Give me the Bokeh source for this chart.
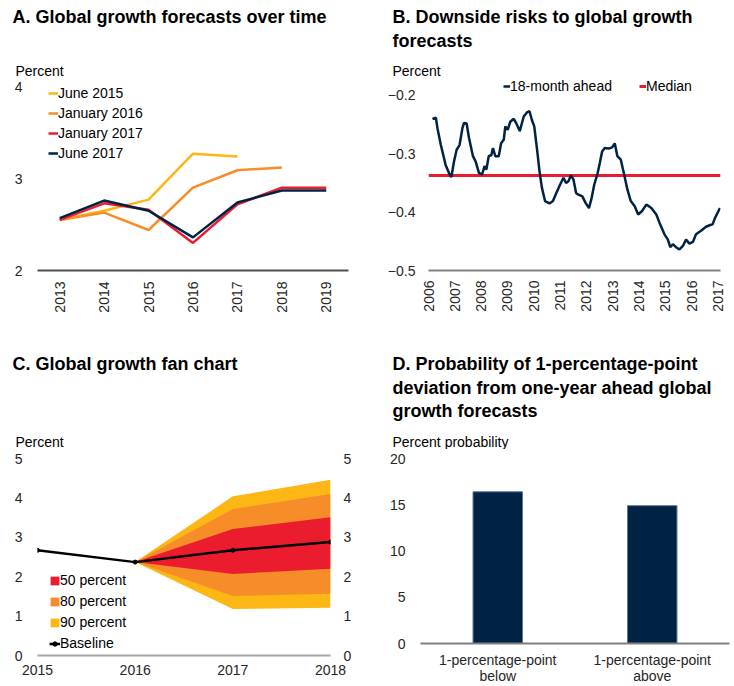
import math
from bokeh.plotting import figure
from bokeh.models import (Label, Legend, LegendItem, FixedTicker, LinearAxis,
                          FactorRange, Range1d)
from bokeh.layouts import row, column
from bokeh.embed import file_html
from bokeh.resources import INLINE

FONT = "Liberation Sans"
YELLOW = "#FDB714"
ORANGE = "#F78D28"
RED = "#EB1C2D"
NAVY = "#002345"

# ---------------- Panel A data ----------------
a_years = ["2013", "2014", "2015", "2016", "2017", "2018", "2019"]
a_june2015 = [2.55, 2.65, 2.77, 3.27, 3.24]
a_jan2016 = [2.55, 2.63, 2.44, 2.90, 3.09, 3.12]
a_jan2017 = [2.55, 2.73, 2.66, 2.30, 2.72, 2.90, 2.90]
a_june2017 = [2.57, 2.76, 2.65, 2.36, 2.74, 2.87, 2.87]
a_yticks = [2, 3, 4]

# ---------------- Panel B data ----------------
b_dates = [2006.0, 2006.15, 2006.28, 2006.34, 2006.47, 2006.65, 2006.78, 2006.87, 2006.97,
           2007.07, 2007.18, 2007.29, 2007.35, 2007.45, 2007.54, 2007.69, 2007.79, 2007.92,
           2008.04, 2008.13, 2008.20, 2008.29, 2008.39, 2008.45, 2008.54, 2008.67, 2008.76,
           2008.86, 2008.92, 2009.01, 2009.11, 2009.24, 2009.34, 2009.47, 2009.62, 2009.74,
           2009.84, 2009.93, 2010.02, 2010.12, 2010.22, 2010.31, 2010.43, 2010.60, 2010.73,
           2010.88, 2011.00, 2011.13, 2011.23, 2011.32, 2011.41, 2011.51, 2011.61, 2011.70,
           2011.85, 2011.97, 2012.10, 2012.20, 2012.30, 2012.43, 2012.51, 2012.60, 2012.70,
           2012.85, 2012.98, 2013.08, 2013.18, 2013.31, 2013.44, 2013.56, 2013.69, 2013.84,
           2013.97, 2014.12, 2014.28, 2014.47, 2014.66, 2014.78, 2014.97, 2015.10, 2015.19,
           2015.29, 2015.41, 2015.54, 2015.67, 2015.79, 2015.92, 2016.05, 2016.17, 2016.36,
           2016.55, 2016.71, 2016.80, 2016.89, 2016.99, 2017.08, 2017.10]
b_values = [None, -0.240, -0.238, -0.256, -0.285, -0.319, -0.333, -0.340, -0.313,
            -0.293, -0.285, -0.256, -0.247, -0.248, -0.273, -0.304, -0.313, -0.333,
            -0.335, -0.321, -0.327, -0.304, -0.302, -0.290, -0.304, -0.304, -0.282,
            -0.276, -0.253, -0.259, -0.245, -0.240, -0.248, -0.261, -0.236, -0.229,
            -0.227, -0.242, -0.253, -0.290, -0.330, -0.358, -0.381, -0.385, -0.381,
            -0.365, -0.353, -0.341, -0.350, -0.347, -0.337, -0.344, -0.367, -0.370,
            -0.373, -0.384, -0.393, -0.376, -0.353, -0.333, -0.316, -0.296, -0.290,
            -0.291, -0.289, -0.282, -0.304, -0.310, -0.336, -0.361, -0.381, -0.390,
            -0.404, -0.398, -0.387, -0.393, -0.404, -0.418, -0.438, -0.447, -0.460,
            -0.455, -0.460, -0.464, -0.458, -0.447, -0.454, -0.451, -0.438, -0.432,
            -0.425, -0.422, -0.421, -0.410, -0.401, -0.393, None]
b_median = -0.337
b_xticks = list(range(2006, 2018))
b_yticks = [-0.5, -0.4, -0.3, -0.2]

# ---------------- Panel C data ----------------
c_years = [2015, 2016, 2017, 2018]
c_baseline = [2.67, 2.37, 2.67, 2.88]
c_fan_years = [2016, 2017, 2018]
c_p50_low = [2.37, 2.07, 2.20]
c_p50_high = [2.37, 3.21, 3.51]
c_p80_low = [2.37, 1.51, 1.57]
c_p80_high = [2.37, 3.72, 4.10]
c_p90_low = [2.37, 1.18, 1.21]
c_p90_high = [2.37, 4.04, 4.46]
c_yticks = [0, 1, 2, 3, 4, 5]

# ---------------- Panel D data ----------------
d_categories = ["1-percentage-point\nbelow", "1-percentage-point\nabove"]
d_values = [16.4, 14.9]
d_yticks = [0, 5, 10, 15, 20]


def make_fig(width, height, left, right, top, bottom, x_range, y_range):
    p = figure(width=width, height=height, x_range=x_range, y_range=y_range,
               output_backend="svg", toolbar_location=None, tools="",
               min_border_left=left, min_border_right=right,
               min_border_top=top, min_border_bottom=bottom)
    p.outline_line_color = None
    p.xgrid.visible = False
    p.ygrid.visible = False
    p.background_fill_color = "white"
    p.border_fill_color = "white"
    return p


def make_header(width, height):
    h = figure(width=width, height=height, x_range=Range1d(0, 1), y_range=Range1d(0, 1),
               output_backend="svg", toolbar_location=None, tools="",
               x_axis_location=None, y_axis_location=None, min_border=0)
    h.outline_line_color = None
    h.xgrid.visible = False
    h.ygrid.visible = False
    h.background_fill_color = "white"
    h.border_fill_color = "white"
    return h


def style_axis(ax, line_color=None, standoff=12, orientation=None):
    ax.major_label_text_font = FONT
    ax.major_label_text_font_size = "14px"
    ax.major_label_text_color = "#262626"
    ax.major_tick_line_color = None
    ax.minor_tick_line_color = None
    ax.major_tick_out = 0
    ax.major_tick_in = 0
    ax.major_label_standoff = standoff
    if line_color is None:
        ax.axis_line_color = None
    else:
        ax.axis_line_color = line_color
        ax.axis_line_width = 2
    if orientation is not None:
        ax.major_label_orientation = orientation


def add_text(p, x, y, text, size="14px", bold=False):
    p.add_layout(Label(x=x, y=y, x_units="screen", y_units="screen", text=text,
                       text_font=FONT, text_font_size=size,
                       text_font_style="bold" if bold else "normal",
                       text_color="#000000", text_baseline="middle", text_align="left"))


def style_legend(lg, glyph_w, glyph_h, label_h, spacing, standoff=0):
    lg.border_line_color = None
    lg.background_fill_alpha = 0
    lg.padding = 0
    lg.margin = 0
    lg.spacing = spacing
    lg.glyph_width = glyph_w
    lg.glyph_height = glyph_h
    lg.label_height = label_h
    lg.label_standoff = standoff
    lg.label_text_font = FONT
    lg.label_text_font_size = "14px"
    lg.label_text_color = "#000000"


# ================= headers (titles and unit labels) =================
hA = make_header(367, 78)
add_text(hA, 12, 62, "A. Global growth forecasts over time", "18px", True)
add_text(hA, 15, 8, "Percent")

hB = make_header(367, 78)
add_text(hB, 25, 62, "B. Downside risks to global growth", "18px", True)
add_text(hB, 25, 38, "forecasts", "18px", True)
add_text(hB, 25, 8, "Percent")

hC = make_header(367, 119)
add_text(hC, 12, 86, "C. Global growth fan chart", "18px", True)
add_text(hC, 15, 8, "Percent")

hD = make_header(367, 119)
add_text(hD, 25, 86, "D. Probability of 1-percentage-point", "18px", True)
add_text(hD, 25, 62, "deviation from one-year ahead global", "18px", True)
add_text(hD, 25, 39, "growth forecasts", "18px", True)
add_text(hD, 25, 8, "Percent probability")

# ================= Panel A =================
pA = make_fig(367, 252, 37, 19, 0, 60, FactorRange(*a_years), Range1d(2, 4.087))
rA1 = pA.line(a_years[:len(a_june2015)], a_june2015, line_color=YELLOW, line_width=2.5)
rA2 = pA.line(a_years[:len(a_jan2016)], a_jan2016, line_color=ORANGE, line_width=2.5)
rA3 = pA.line(a_years[:len(a_jan2017)], a_jan2017, line_color=RED, line_width=2.5)
rA4 = pA.line(a_years[:len(a_june2017)], a_june2017, line_color=NAVY, line_width=2.5)
style_axis(pA.xaxis[0], line_color="#505050", standoff=11, orientation=math.pi / 2)
style_axis(pA.yaxis[0], standoff=15)
pA.yaxis[0].ticker = FixedTicker(ticks=a_yticks)
lgA = Legend(items=[LegendItem(label="June 2015", renderers=[rA1]),
                    LegendItem(label="January 2016", renderers=[rA2]),
                    LegendItem(label="January 2017", renderers=[rA3]),
                    LegendItem(label="June 2017", renderers=[rA4])],
             location=(11, 109))
style_legend(lgA, 10, 16, 16, 4)
pA.add_layout(lgA)

# ================= Panel B =================
pB = make_fig(367, 252, 61, 14, 0, 60, Range1d(2006, 2017.1), Range1d(-0.5, -0.1709))
rB2 = pB.line(b_dates, [b_median] * len(b_dates), line_color=RED, line_width=3)
rB1 = pB.line(b_dates, [float("nan") if v is None else v for v in b_values],
              line_color=NAVY, line_width=2.5)
style_axis(pB.xaxis[0], line_color="#808080", standoff=10, orientation=math.pi / 2)
pB.xaxis[0].ticker = FixedTicker(ticks=b_xticks)
style_axis(pB.yaxis[0], standoff=13)
pB.yaxis[0].ticker = FixedTicker(ticks=b_yticks)
lgB = Legend(items=[LegendItem(label="18-month ahead", renderers=[rB1]),
                    LegendItem(label="Median", renderers=[rB2])],
             location=(75, 176), orientation="horizontal")
style_legend(lgB, 7, 16, 16, 27)
pB.add_layout(lgB)

# ================= Panel C =================
pC = make_fig(367, 237, 37, 37, 9, 31, Range1d(2015, 2018), Range1d(0, 5))
rC90 = pC.varea(x=c_fan_years, y1=c_p90_low, y2=c_p90_high, fill_color=YELLOW)
rC80 = pC.varea(x=c_fan_years, y1=c_p80_low, y2=c_p80_high, fill_color=ORANGE)
rC50 = pC.varea(x=c_fan_years, y1=c_p50_low, y2=c_p50_high, fill_color=RED)
rCl = pC.line(c_years, c_baseline, line_color="#000000", line_width=2.5)
rCs = pC.scatter(c_years, c_baseline, size=4, color="#000000")
style_axis(pC.xaxis[0], line_color="#a6a6a6", standoff=9)
pC.xaxis[0].ticker = FixedTicker(ticks=c_years)
style_axis(pC.yaxis[0], standoff=15)
pC.yaxis[0].ticker = FixedTicker(ticks=c_yticks)
rightC = LinearAxis(ticker=FixedTicker(ticks=c_yticks))
style_axis(rightC, standoff=13)
pC.add_layout(rightC, "right")
lgC = Legend(items=[LegendItem(label="50 percent", renderers=[rC50]),
                    LegendItem(label="80 percent", renderers=[rC80]),
                    LegendItem(label="90 percent", renderers=[rC90]),
                    LegendItem(label="Baseline", renderers=[rCl, rCs])],
             location=(12, 4))
style_legend(lgC, 11, 11, 16, 5)
pC.add_layout(lgC)

# ================= Panel D =================
pD = make_fig(367, 237, 53, 5, 9, 43, FactorRange(*d_categories, range_padding=0), Range1d(0, 20))
pD.vbar(x=d_categories, top=d_values, width=0.32, fill_color=NAVY,
        line_color="#5b7593", line_width=1)
style_axis(pD.xaxis[0], line_color="#808080", standoff=8)
pD.xaxis[0].major_label_text_line_height = 1.0
style_axis(pD.yaxis[0], standoff=15)
pD.yaxis[0].ticker = FixedTicker(ticks=d_yticks)

layout = column(row(hA, hB),
                row(column(pA), column(pB)),
                row(hC, hD),
                row(column(pC), column(pD)))
open("out.html", "w").write(file_html(layout, INLINE))
